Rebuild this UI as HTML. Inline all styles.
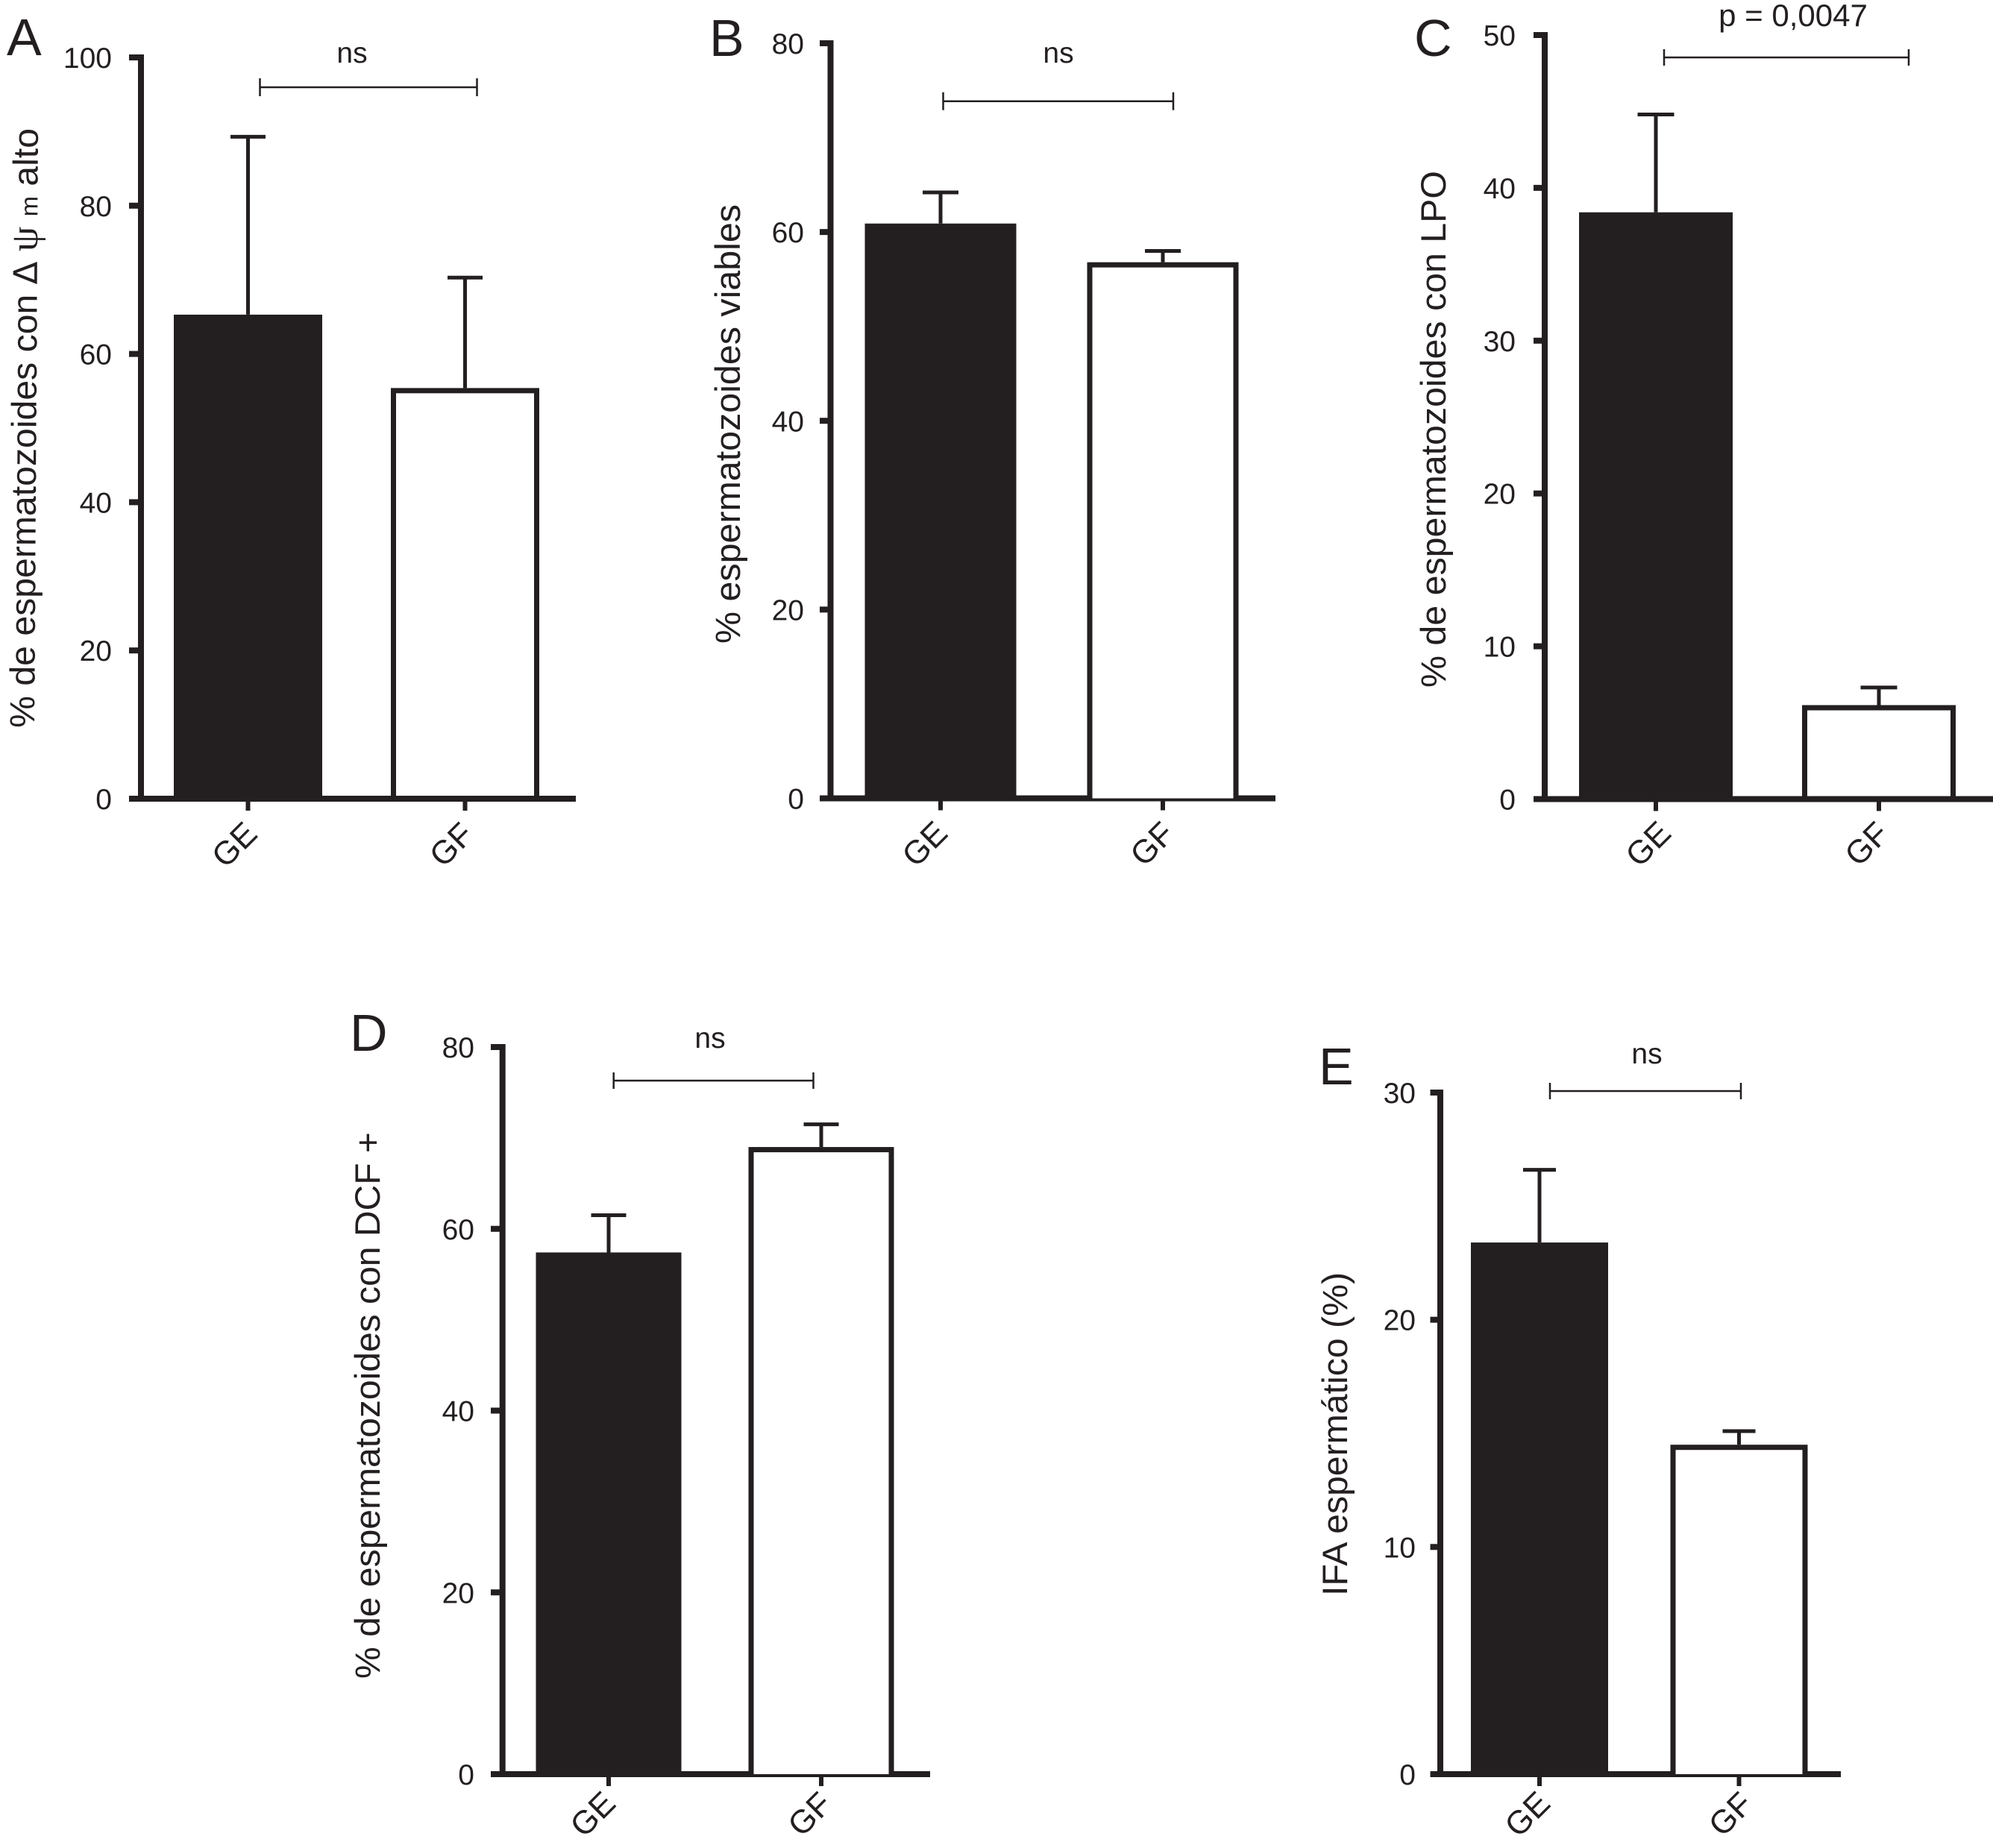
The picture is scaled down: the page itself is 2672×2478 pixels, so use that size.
<!DOCTYPE html>
<html lang="es">
<head>
<meta charset="utf-8">
<title>Panels A-E bar charts</title>
<style>
html,body{margin:0;padding:0;background:#fff;}
svg{display:block;}
text{font-family:"Liberation Sans",Arial,sans-serif;fill:#231f20;}
.tick{font-size:39px;text-anchor:end;}
.cat{font-size:44px;text-anchor:middle;dominant-baseline:central;}
.note{font-size:39px;text-anchor:middle;}
.letter{font-size:70px;}
.title{font-size:47px;}
</style>
</head>
<body>
<svg id="figure" width="2672" height="2478" viewBox="0 0 2672 2478" xmlns="http://www.w3.org/2000/svg">
  <rect x="0" y="0" width="2672" height="2478" fill="#ffffff"/>
  <g id="panel-a">
    <text class="letter" x="9" y="74">A</text>
    <text class="title" transform="translate(46,976) rotate(-89.65)" textLength="804" lengthAdjust="spacingAndGlyphs">% de espermatozoides con <tspan font-size="44" font-family="'DejaVu Sans',sans-serif">Δ</tspan> <tspan font-size="52" font-family="'Liberation Serif',serif">ψ</tspan> <tspan font-size="32">m</tspan> alto</text>
    <text class="note" x="472" y="84">ns</text>
  </g>
  <g id="panel-b">
    <text class="letter" x="951" y="75">B</text>
    <text class="title" transform="translate(992,863) rotate(-90)" textLength="589" lengthAdjust="spacingAndGlyphs">% espermatozoides viables</text>
    <text class="note" x="1419" y="84">ns</text>
  </g>
  <g id="panel-c">
    <text class="letter" x="1896" y="75">C</text>
    <text class="title" transform="translate(1938,922) rotate(-90)" textLength="693" lengthAdjust="spacingAndGlyphs">% de espermatozoides con LPO</text>
    <text class="note" x="2404" y="35" style="font-size:42px">p = 0,0047</text>
  </g>
  <g id="panel-d">
    <text class="letter" x="469" y="1409">D</text>
    <text class="title" transform="translate(509,2251) rotate(-90)" textLength="733" lengthAdjust="spacingAndGlyphs">% de espermatozoides con DCF +</text>
    <text class="note" x="952" y="1405">ns</text>
  </g>
  <g id="panel-e">
    <text class="letter" x="1768" y="1454">E</text>
    <text class="title" transform="translate(1806,2140) rotate(-90)" textLength="434" lengthAdjust="spacingAndGlyphs">IFA espermático (%)</text>
    <text class="note" x="2208" y="1426">ns</text>
  </g>
</svg>
<script>
// ---- Data ----
const categories = ['GE', 'GF'];

const valuesA = [65.3, 55.4];
const errorTopsA = [89.3, 70.3];
const ticksA = [0, 20, 40, 60, 80, 100];

const valuesB = [60.9, 56.8];
const errorTopsB = [64.2, 58.0];
const ticksB = [0, 20, 40, 60, 80];

const valuesC = [38.4, 6.15];
const errorTopsC = [44.8, 7.3];
const ticksC = [0, 10, 20, 30, 40, 50];

const valuesD = [57.4, 69.0];
const errorTopsD = [61.5, 71.5];
const ticksD = [0, 20, 40, 60, 80];

const valuesE = [23.4, 14.5];
const errorTopsE = [26.6, 15.1];
const ticksE = [0, 10, 20, 30];

// ---- Layout of each panel (geometry, separate from data) ----
const panels = [
  {id:'a', values:valuesA, tops:errorTopsA, ticks:ticksA, axisX:189, top:77, zero:1071, tickLeft:173, xEnd:772,
   centers:[332.5,623.5], barW:199, capW:47, labelR:150, catDx:[-18,-18], catY:1133, bracket:[348.5,639.5,117,12], overAxis:false},
  {id:'b', values:valuesB, tops:errorTopsB, ticks:ticksB, axisX:1113.5, top:58, zero:1070.5, tickLeft:1099, xEnd:1710,
   centers:[1261,1559], barW:203, capW:48, labelR:1078, catDx:[-21,-14], catY:1132, bracket:[1264.5,1573,135.7,12], overAxis:true},
  {id:'c', values:valuesC, tops:errorTopsC, ticks:ticksC, axisX:2071, top:47, zero:1071.5, tickLeft:2056, xEnd:2672,
   centers:[2220,2519], barW:206, capW:49, labelR:2032, catDx:[-10,-16], catY:1132, bracket:[2231,2559,77,11], overAxis:false},
  {id:'d', values:valuesD, tops:errorTopsD, ticks:ticksD, axisX:673.7, top:1404, zero:2379, tickLeft:658, xEnd:1247,
   centers:[816,1101], barW:195, capW:47, labelR:636, catDx:[-21,-15], catY:2433, bracket:[822.7,1090.5,1449,11], overAxis:true},
  {id:'e', values:valuesE, tops:errorTopsE, ticks:ticksE, axisX:1931, top:1465, zero:2379, tickLeft:1917.5, xEnd:2468,
   centers:[2064,2331.5], barW:184, capW:44, labelR:1898, catDx:[-16,-11], catY:2433, bracket:[2078,2334,1463,11], overAxis:true}
];

const INK = '#231f20';
const NS = 'http://www.w3.org/2000/svg';

function make(parent, tag, attrs) {
  const el = document.createElementNS(NS, tag);
  for (const k in attrs) el.setAttribute(k, attrs[k]);
  parent.appendChild(el);
  return el;
}

function line(parent, x1, y1, x2, y2, w) {
  return make(parent, 'line', {x1:x1, y1:y1, x2:x2, y2:y2, stroke:INK, 'stroke-width':w});
}

function drawAxes(g, p, yScale) {
  const axisY = line(g, p.axisX, p.top - 4, p.axisX, p.zero + 4, 8);
  
  
  const axisX = line(g, p.tickLeft, p.zero, p.xEnd, p.zero, 8);
  
  
  p.ticks.forEach(function (t) {
    const y = yScale(t);
    const tick = line(g, p.tickLeft, y, p.axisX, y, 8);
    
    
    const label = make(g, 'text', {class:'tick', x:p.labelR, y:y + 14});
    label.textContent = String(t);
    
    
  });
  categories.forEach(function (c, i) {
    const cx = p.centers[i];
    const tick = line(g, cx, p.zero, cx, p.zero + 16, 6);
    
    
    const lx = cx + p.catDx[i];
    const label = make(g, 'text', {class:'cat', x:lx, y:p.catY, transform:'rotate(-45 ' + lx + ' ' + p.catY + ')'});
    label.textContent = c;
    
    
  });
}

function drawBars(g, p, yScale) {
  categories.forEach(function (c, i) {
    const cx = p.centers[i];
    const yTop = yScale(p.values[i]);
    const yErr = yScale(p.tops[i]);
    const stem = line(g, cx, yTop, cx, yErr, 5);
    
    
    const cap = line(g, cx - p.capW / 2, yErr, cx + p.capW / 2, yErr, 5);
    
    
    const sw = 7;
    const filled = i === 0;
    const bar = make(g, 'rect', {
      x: cx - p.barW / 2 + sw / 2,
      y: yTop + sw / 2,
      width: p.barW - sw,
      height: Math.max(0, p.zero - yTop - sw / 2),
      fill: filled ? INK : '#ffffff',
      stroke: INK,
      'stroke-width': sw
    });
    
    
    // white bars do not show a stroke along the baseline; cover it with the fill
    if (!filled) {
      const cover = make(g, 'rect', {
        x: cx - p.barW / 2 + sw,
        y: p.zero - 6,
        width: p.barW - 2 * sw,
        height: 6,
        fill: '#ffffff'
      });
      
      
    }
  });
}

function drawBracket(g, p) {
  const b = p.bracket;
  const main = line(g, b[0], b[2], b[1], b[2], 2.5);
  
  
  const left = line(g, b[0], b[2] - b[3], b[0], b[2] + b[3], 2.5);
  
  
  const right = line(g, b[1], b[2] - b[3], b[1], b[2] + b[3], 2.5);
  
  
}

panels.forEach(function (p) {
  const g = document.getElementById('panel-' + p.id);
  const maxTick = p.ticks[p.ticks.length - 1];
  const yScale = function (v) { return p.zero - (v / maxTick) * (p.zero - p.top); };
  if (p.overAxis) {
    drawAxes(g, p, yScale);
    drawBars(g, p, yScale);
  } else {
    drawBars(g, p, yScale);
    drawAxes(g, p, yScale);
  }
  drawBracket(g, p);
});
</script>
</body>
</html>
